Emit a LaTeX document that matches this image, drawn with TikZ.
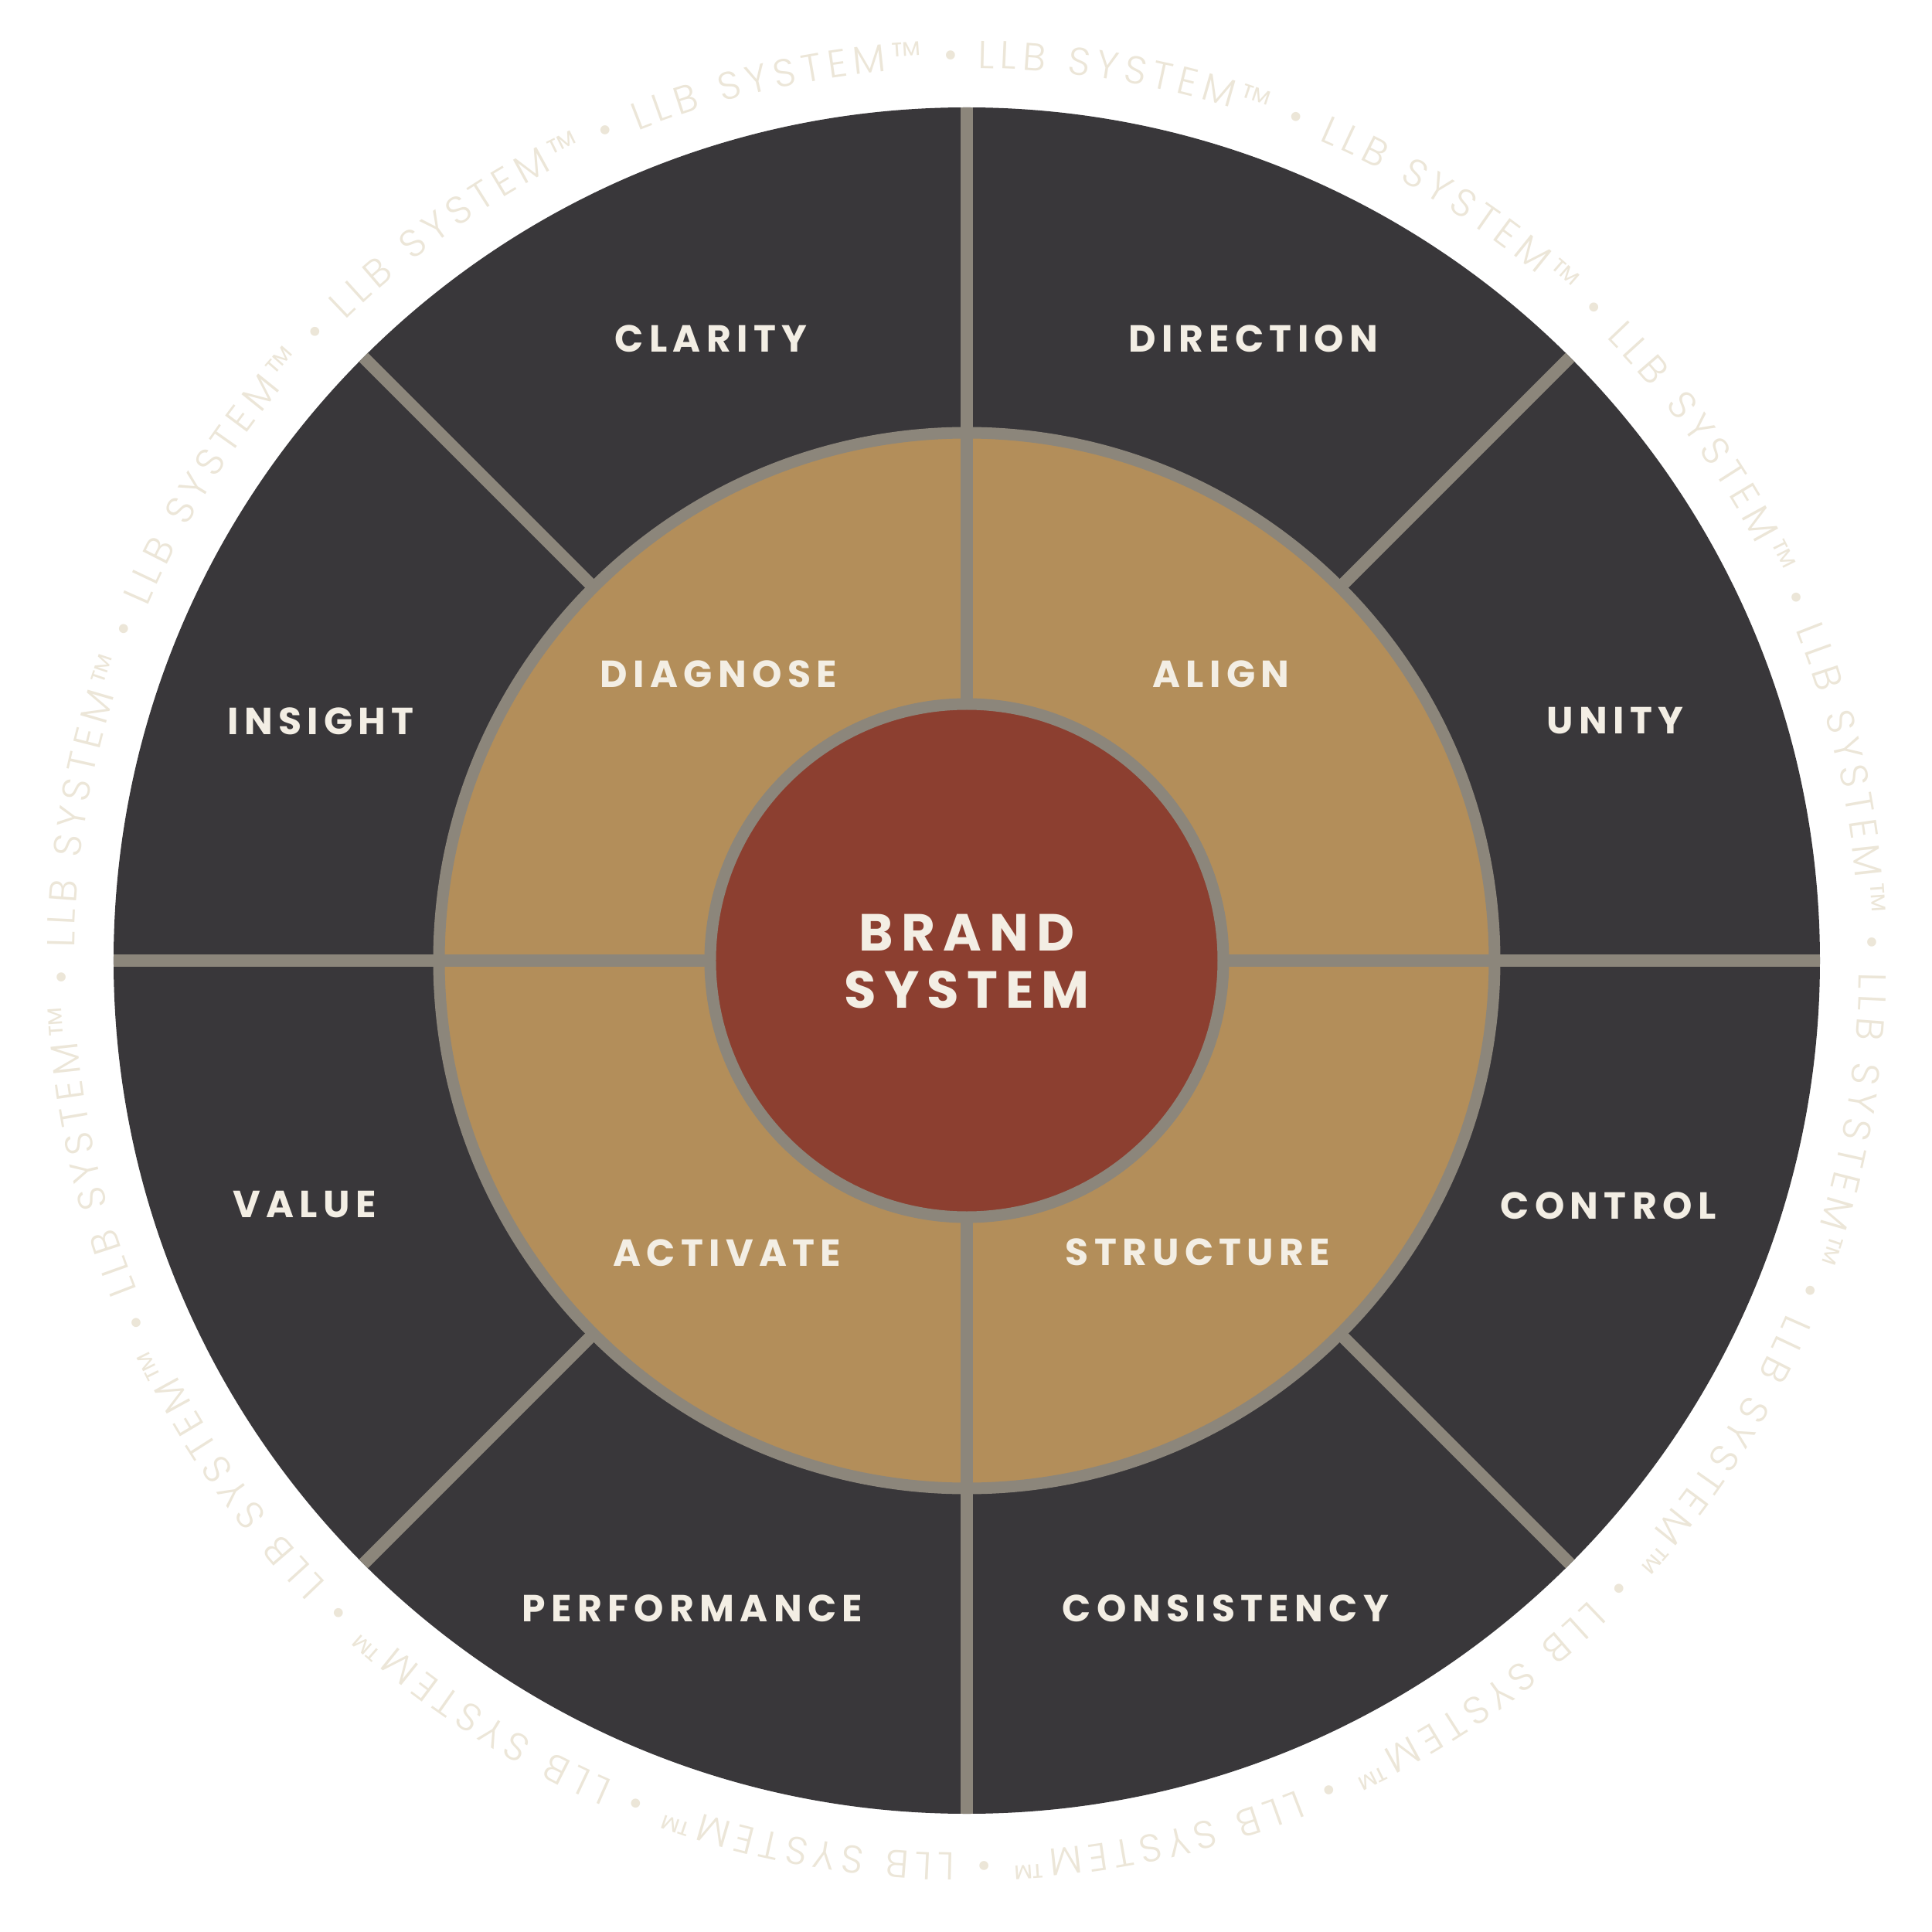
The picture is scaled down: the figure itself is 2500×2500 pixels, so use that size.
\documentclass[tikz,border=0pt]{standalone}
\usepackage{fontspec}
\usetikzlibrary{decorations.text}
\newfontfamily\labfont[LetterSpace=15]{Poppins Bold}
\newfontfamily\ringfont{Poppins Light}
\definecolor{darkc}{HTML}{39373A}
\definecolor{grayc}{HTML}{8C867B}
\definecolor{tanc}{HTML}{B38E5A}
\definecolor{redc}{HTML}{8C3F30}
\definecolor{cream}{HTML}{F3EEE4}
\definecolor{ringc}{HTML}{ECE6D8}
\tikzset{
  divider/.style={draw=grayc, line width=1.6mm},
  ringborder/.style={draw=grayc, line width=1.5mm},
  lab/.style={text=cream, font=\labfont\fontsize{13.9}{16}\selectfont, inner sep=0pt},
  biglab/.style={text=cream, font=\labfont\fontsize{19.2}{22}\selectfont, inner sep=0pt},
}
\begin{document}
\begin{tikzpicture}[x=0.1mm,y=0.1mm]
\useasboundingbox[fill=white] (-1251,-1257) rectangle (1249,1243);
% outer ring
\fill[darkc] (0,0) circle[radius=1104];
\foreach \a in {0,45,...,315} \draw[divider] (\a:683) -- (\a:1104);
% middle ring
\draw[ringborder, fill=tanc] (0,0) circle[radius=683];
\foreach \a in {0,90,180,270} \draw[divider] (\a:332) -- (\a:683);
% core
\draw[ringborder, fill=redc] (0,0) circle[radius=332];
% labels
\node[lab] (clarity) at (-331,805) {CLARITY};
\node[lab] (direction) at (371,805) {DIRECTION};
\node[lab] (insight) at (-836,310) {INSIGHT};
\node[lab] (unity) at (839,310) {UNITY};
\node[lab] (value) at (-857,-316) {VALUE};
\node[lab] (control) at (830,-317) {CONTROL};
\node[lab] (performance) at (-355,-838) {PERFORMANCE};
\node[lab] (consistency) at (335,-838) {CONSISTENCY};
\node[lab] (diagnose) at (-321,371) {DIAGNOSE};
\node[lab] (align) at (329,371) {ALIGN};
\node[lab] (activate) at (-310,-378) {ACTIVATE};
\node[lab] (structure) at (299,-377) {STRUCTURE};
\node[biglab] (brand) at (0,36) {BRAND};
\node[biglab] (system) at (0,-38) {SYSTEM};
% ring text
\path[decorate, decoration={text along path, text color=ringc, text align={fit to path},
  text={|\ringfont\fontsize{14.3}{16}\selectfont|LLB SYSTEM™ • LLB SYSTEM™ • LLB SYSTEM™ • LLB SYSTEM™ • LLB SYSTEM™ • LLB SYSTEM™ • LLB SYSTEM™ • LLB SYSTEM™ • LLB SYSTEM™ • LLB SYSTEM™ • LLB SYSTEM™ • LLB SYSTEM™ • LLB SYSTEM™ • LLB SYSTEM™ • LLB SYSTEM™ • LLB SYSTEM™ •}}]
  (89.3:1155) arc[start angle=89.3, end angle=-269.0, radius=1155];
\end{tikzpicture}
\end{document}
